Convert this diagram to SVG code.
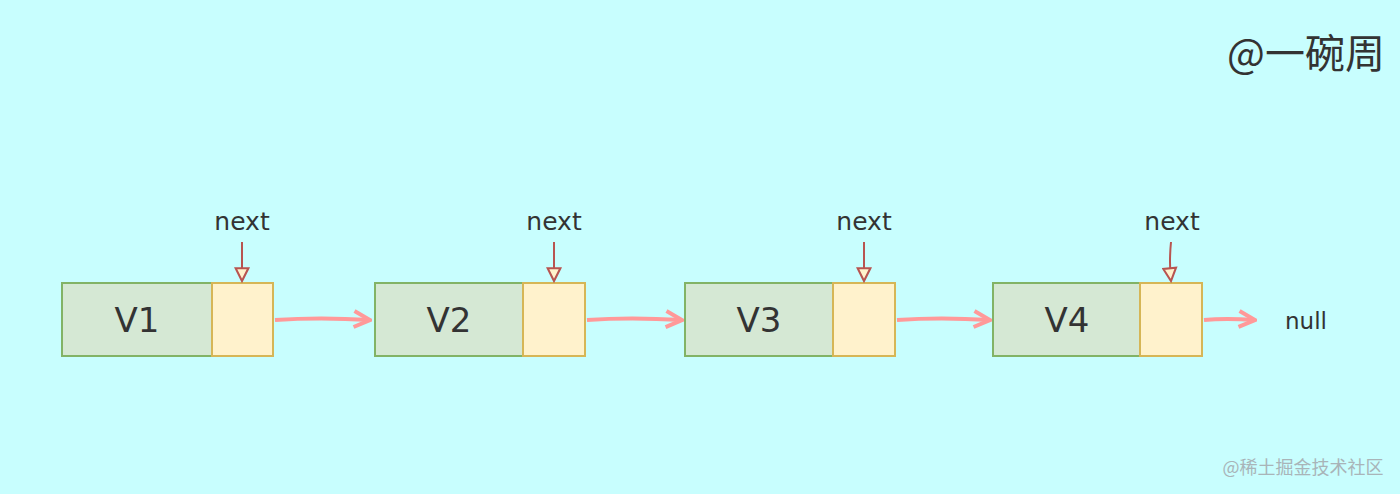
<svg xmlns="http://www.w3.org/2000/svg" width="1400" height="494" viewBox="0 0 1400 494">
<style>
.g{fill:#d5e8d4;stroke:#82b366;stroke-width:2}
.y{fill:#fff2cc;stroke:#d6b656;stroke-width:2}
.v{font-family:"Comic Sans MS","DejaVu Sans",sans-serif;font-size:34px;fill:#333;text-anchor:middle}
.n{font-family:"Comic Sans MS","DejaVu Sans",sans-serif;font-size:25px;fill:#333;text-anchor:middle}
.p{stroke:#ff9999;stroke-width:4;fill:none}
.r{stroke:#b85450;stroke-width:2;fill:none}
</style>
<defs>
<marker id="pa" viewBox="0 0 10 10" refX="9" refY="5" markerWidth="5" markerHeight="5" orient="auto" markerUnits="strokeWidth">
<path d="M1,1 L9,5 L1,9" fill="none" stroke="#ff9999" stroke-width="2"/>
</marker>
<marker id="ra" viewBox="0 0 10 10" refX="9" refY="5" markerWidth="8" markerHeight="8" orient="auto" markerUnits="strokeWidth">
<path d="M1,1 L9,5 L1,9 Z" fill="#fff2cc" stroke="#b85450" stroke-width="1.3"/>
</marker>
</defs>
<rect width="1400" height="494" fill="#c8fefe"/>
<text x="1306" y="68" font-family="'Comic Sans MS','Noto Sans CJK SC',sans-serif" font-size="40" fill="#333" text-anchor="middle">@一碗周</text>
<g id="node1">
<rect class="g" x="62" y="283" width="150" height="73"/>
<rect class="y" x="212" y="283" width="61" height="73"/>
<text class="v" x="137" y="332">V1</text>
<text class="n" x="242" y="230">next</text>
</g>
<g id="node2">
<rect class="g" x="375" y="283" width="148" height="73"/>
<rect class="y" x="523" y="283" width="62" height="73"/>
<text class="v" x="449" y="332">V2</text>
<text class="n" x="554" y="230">next</text>
</g>
<g id="node3">
<rect class="g" x="685" y="283" width="148" height="73"/>
<rect class="y" x="833" y="283" width="62" height="73"/>
<text class="v" x="759" y="332">V3</text>
<text class="n" x="864" y="230">next</text>
</g>
<g id="node4">
<rect class="g" x="993" y="283" width="147" height="73"/>
<rect class="y" x="1140" y="283" width="62" height="73"/>
<text class="v" x="1067" y="332">V4</text>
<text class="n" x="1172" y="230">next</text>
</g>
<g id="null">
<text x="1306" y="329" font-family="'Comic Sans MS','DejaVu Sans',sans-serif" font-size="23" fill="#333" text-anchor="middle">null</text>
</g>
<g id="connectors">
<path class="p" d="M275,320 Q320,317 370,320" marker-end="url(#pa)"/>
<path class="p" d="M587,320 Q630,317 682,320" marker-end="url(#pa)"/>
<path class="p" d="M897,320 Q940,317 990,320" marker-end="url(#pa)"/>
<path class="p" d="M1204,320 Q1225,318 1255,320" marker-end="url(#pa)"/>
<path class="r" d="M242,242 L242,281" marker-end="url(#ra)"/>
<path class="r" d="M554,242 L554,281" marker-end="url(#ra)"/>
<path class="r" d="M864,242 L864,281" marker-end="url(#ra)"/>
<path class="r" d="M1171,242 Q1169,262 1171,281" marker-end="url(#ra)"/>
</g>
<text x="1303" y="474" font-family="'Noto Sans CJK SC',sans-serif" font-size="18" fill="#a9b4b8" text-anchor="middle">@稀土掘金技术社区</text>
</svg>
